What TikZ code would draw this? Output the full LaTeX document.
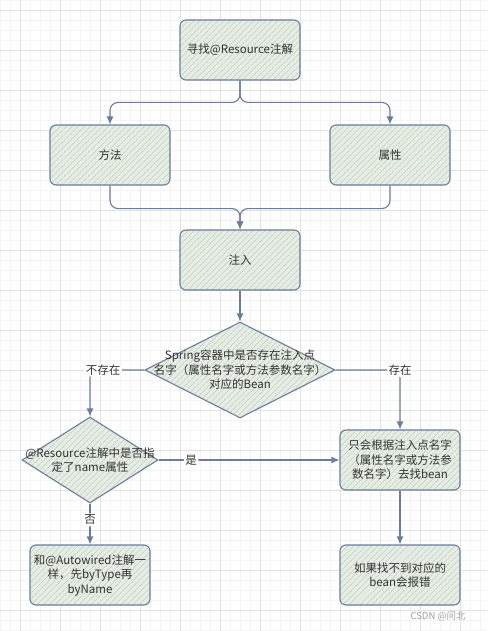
\documentclass[tikz,border=0pt]{standalone}
\usepackage{fontspec}
\setmainfont{Noto Sans CJK SC}
\usetikzlibrary{shapes.geometric, arrows.meta, positioning, patterns.meta}
\definecolor{edge}{HTML}{6B7C9C}
\definecolor{boxfill}{HTML}{E8ECE7}
\definecolor{hatch}{HTML}{C4D9C0}
\definecolor{ink}{HTML}{333333}
\definecolor{gridmajor}{HTML}{E2E2E2}
\definecolor{gridminor}{HTML}{F4F4F4}
\newcommand{\flowfont}{\fontsize{11.5}{14.5}\selectfont}
\tikzstyle{proc} = [rectangle, rounded corners=6pt, draw=edge, line width=1.1pt, preaction={fill=boxfill}, pattern={Lines[angle=45,distance=4pt,line width=0.9pt]}, pattern color=hatch, minimum width=120pt, minimum height=60pt, align=center, text=ink, font=\flowfont]
\tikzstyle{arrow} = [draw=edge, line width=1.1pt, rounded corners=8pt, -{Latex[length=8pt,width=7pt]}]

\begin{document}
\begin{tikzpicture}[x=1pt, y=-1pt,
    decide/.style={diamond, draw=edge, line width=1.1pt, preaction={fill=boxfill}, pattern={Lines[angle=45,distance=4pt,line width=0.9pt]}, pattern color=hatch, inner sep=0pt},
    caption/.style={align=center, text=ink, font=\flowfont},
    edgelabel/.style={fill=white, inner sep=1.5pt, text=ink, font=\flowfont}
  ]
    \useasboundingbox (0,0) rectangle (487,631);

    % Background grid
    \foreach \gx in {0,10,...,480} \draw[gridminor, line width=0.6pt] (\gx,0) -- (\gx,631);
    \foreach \gy in {0,10,...,630} \draw[gridminor, line width=0.6pt] (0,\gy) -- (487,\gy);
    \foreach \gx in {20,60,...,460} \draw[gridmajor, line width=0.8pt] (\gx,0) -- (\gx,631);
    \foreach \gy in {10,50,...,610} \draw[gridmajor, line width=0.8pt] (0,\gy) -- (487,\gy);

    % Process boxes
    \node[proc] (find)   at (240,50)  {寻找@Resource注解};
    \node[proc] (method) at (110,155) {方法};
    \node[proc] (field)  at (390,155) {属性};
    \node[proc] (inject) at (240,260) {注入};

    % Decisions (text set on top)
    \node[decide, minimum width=190pt, minimum height=96pt] (exist) at (240,370) {};
    \node[caption] (existtext) at (exist.center) {Spring容器中是否存在注入点\\名字（属性名字或方法参数名字）\\对应的Bean};
    \node[decide, minimum width=136pt, minimum height=86pt] (named) at (90,460) {};
    \node[caption] (namedtext) at (named.center) {@Resource注解中是否指\\定了name属性};

    % Results
    \node[proc] (byname)   at (400,460) {只会根据注入点名字\\（属性名字或方法参\\数名字）去找bean};
    \node[proc] (bytype)   at (90,575)  {和@Autowired注解一\\样，先byType再\\byName};
    \node[proc] (notfound) at (400,575) {如果找不到对应的\\bean会报错};

    % Arrows
    \draw[arrow] (find.south) -- ++(0,22) -| (method.north);
    \draw[arrow] (find.south) -- ++(0,22) -| (field.north);
    \draw[arrow] (method.south) -- ++(0,23) -| (inject.north);
    \draw[arrow] (field.south) -- ++(0,23) -| (inject.north);
    \draw[arrow] (inject.south) -- (exist.north);
    \draw[arrow] (exist.west) -| node[edgelabel, pos=0.38] {不存在} (named.north);
    \draw[arrow] (exist.east) -| node[edgelabel, pos=0.5] {存在} (byname.north);
    \draw[arrow] (named.east) -- node[edgelabel, pos=0.18] {是} (byname.west);
    \draw[arrow] (named.south) -- node[edgelabel, pos=0.4] {否} (bytype.north);
    \draw[arrow] (byname.south) -- (notfound.north);

    % Watermark
    \node[text=gray!75, font=\fontsize{9.5}{11}\selectfont] (mark) at (438,616) {CSDN @问北};
  \end{tikzpicture}
\end{document}
